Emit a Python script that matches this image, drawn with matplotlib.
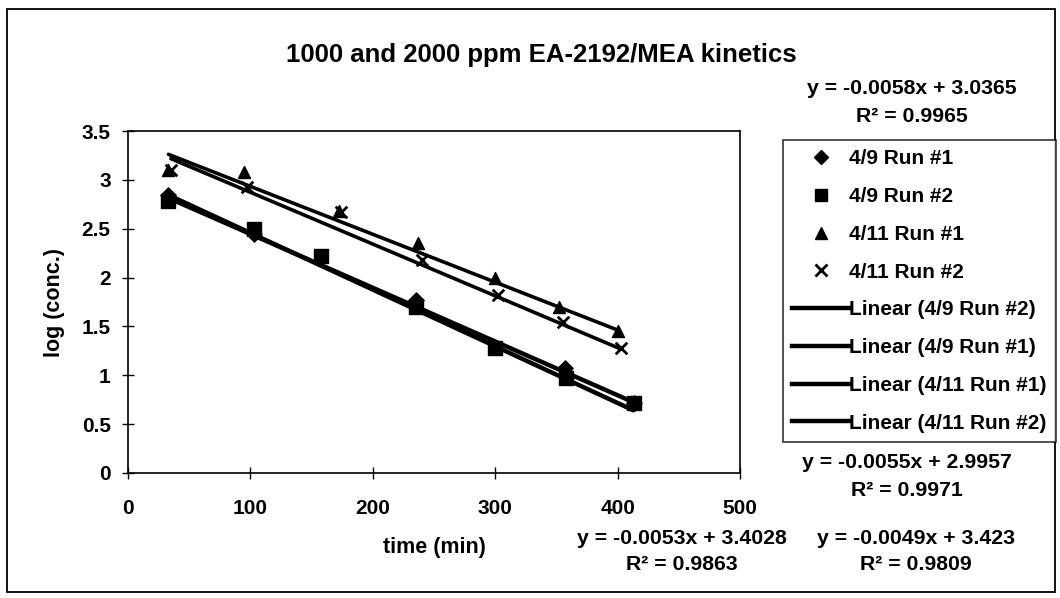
import numpy as np
import matplotlib.pyplot as plt
from matplotlib.lines import Line2D
from matplotlib.patches import Rectangle

plt.rcParams['font.family'] = ['Liberation Sans', 'DejaVu Sans']
plt.rcParams['font.weight'] = 'bold'

# data
t_49_1 = [33, 103, 235, 357, 413]
y_49_1 = [2.85, 2.45, 1.77, 1.07, 0.72]
t_49_2 = [33, 103, 158, 235, 300, 358, 413]
y_49_2 = [2.78, 2.50, 2.22, 1.70, 1.28, 0.97, 0.72]
t_411_1 = [33, 95, 172, 237, 300, 352, 400]
y_411_1 = [3.10, 3.08, 2.68, 2.35, 2.00, 1.70, 1.45]
t_411_2 = [35, 97, 174, 240, 302, 355, 403]
y_411_2 = [3.10, 2.93, 2.67, 2.18, 1.82, 1.55, 1.28]

# trendline coefficients (slope, intercept, R^2) as printed on the chart
fit_49_1 = (-0.0058, 3.0365, 0.9965)
fit_49_2 = (-0.0055, 2.9957, 0.9971)
fit_411_1 = (-0.0049, 3.423, 0.9809)
fit_411_2 = (-0.0053, 3.4028, 0.9863)

W, H = 1060, 598
fig = plt.figure(figsize=(W / 100, H / 100), dpi=100)
ax = fig.add_axes([128 / W, 1 - 473 / H, 612 / W, 342 / H])

ax.scatter(t_49_1, y_49_1, marker='D', s=60, color='black', zorder=3)
ax.scatter(t_49_2, y_49_2, marker='s', s=110, color='black', zorder=3)
ax.scatter(t_411_1, y_411_1, marker='^', s=75, color='black', zorder=3)
ax.scatter(t_411_2, y_411_2, marker='x', s=70, color='black', linewidths=2, zorder=3)

def trend(t, fit, lw):
    x = np.array([min(t), max(t)])
    ax.plot(x, fit[0] * x + fit[1], color='black', lw=lw, solid_capstyle='round', zorder=2)

trend(t_49_2, fit_49_2, 3.2)
trend(t_49_1, fit_49_1, 3.2)
trend(t_411_1, fit_411_1, 2.6)
trend(t_411_2, fit_411_2, 2.6)

ax.set_xlim(0, 500)
ax.set_ylim(0, 3.5)
ax.set_xticks(np.arange(0, 501, 100))
ax.set_yticks(np.arange(0, 3.51, 0.5))
ax.set_yticklabels(['0', '0.5', '1', '1.5', '2', '2.5', '3', '3.5'])
ax.tick_params(direction='inout', length=9, width=1, labelsize=15)
ax.tick_params(axis='x', pad=14)
ax.tick_params(axis='y', pad=8)
for s in ax.spines.values():
    s.set_linewidth(1.2)
ax.set_xlabel('time (min)', fontsize=15.5, fontweight='bold', labelpad=14)
ax.set_ylabel('log (conc.)', fontsize=15.5, fontweight='bold', labelpad=12)

fig.text(541 / W, 1 - 55 / H, '1000 and 2000 ppm EA-2192/MEA kinetics',
         ha='center', va='center', fontsize=18.5, fontweight='bold')

def eq(px, py, fit):
    fig.text(px / W, 1 - py / H, f'y = {fit[0]}x + {fit[1]}',
             ha='center', va='center', fontsize=15.3, fontweight='bold')
    fig.text(px / W, 1 - (py + 27) / H, f'R² = {fit[2]}',
             ha='center', va='center', fontsize=15.3, fontweight='bold')

eq(912, 89, fit_49_1)
eq(907, 463, fit_49_2)
eq(682, 538, fit_411_2)
eq(916, 538, fit_411_1)

handles = [
    Line2D([], [], ls='none', marker='D', ms=7, color='black'),
    Line2D([], [], ls='none', marker='s', ms=9, color='black'),
    Line2D([], [], ls='none', marker='^', ms=9, color='black'),
    Line2D([], [], ls='none', marker='x', ms=8, mew=2, color='black'),
    Line2D([], [], color='black', lw=3.2),
    Line2D([], [], color='black', lw=3.2),
    Line2D([], [], color='black', lw=3.2),
    Line2D([], [], color='black', lw=3.2),
]
labels = ['4/9 Run #1', '4/9 Run #2', '4/11 Run #1', '4/11 Run #2',
          'Linear (4/9 Run #2)', 'Linear (4/9 Run #1)',
          'Linear (4/11 Run #1)', 'Linear (4/11 Run #2)']
leg = fig.legend(handles, labels, loc='upper left', bbox_to_anchor=(783 / W, 1 - 140 / H),
                 prop={'size': 15, 'weight': 'bold'}, frameon=True, fancybox=False,
                 edgecolor='black', handlelength=2.7, handletextpad=0.0,
                 labelspacing=0.9, borderpad=0.45, borderaxespad=0)
leg.get_frame().set_linewidth(1.2)

fig.patches.append(Rectangle((7 / W, 1 - 592 / H), 1048 / W, 583 / H, transform=fig.transFigure,
                             fill=False, edgecolor='black', lw=1.3))

fig.savefig('out.png', dpi=100)
